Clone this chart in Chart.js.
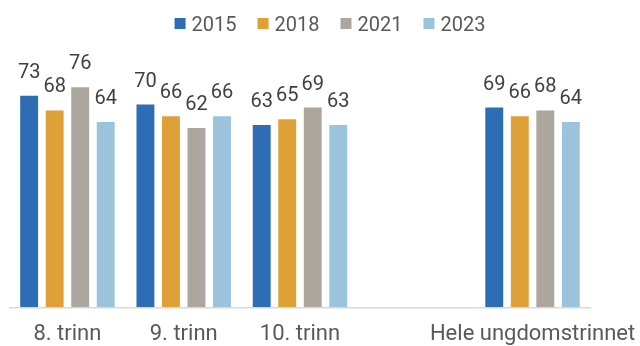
<!DOCTYPE html>
<html lang="no">
<head>
<meta charset="utf-8">
<title>Andel per trinn</title>
<script src="https://cdn.jsdelivr.net/npm/chart.js@4.4.1/dist/chart.umd.min.js"></script>
<style>
  html, body { margin: 0; padding: 0; background: #ffffff; overflow: hidden; }
  #chart { display: block; }
</style>
</head>
<body>
<canvas id="chart" width="640" height="346"></canvas>
<script>
// 1 DATA
const categories = ['8. trinn', '9. trinn', '10. trinn', '', 'Hele ungdomstrinnet'];
const years = ['2015', '2018', '2021', '2023'];
const values2015 = [73, 70, 63, null, 69];
const values2018 = [68, 66, 65, null, 66];
const values2021 = [76, 62, 69, null, 68];
const values2023 = [64, 66, 63, null, 64];
const colors = ['#2E6DB4', '#E0A038', '#ADA69F', '#9BC3DE'];

const FONT = 'Roboto, "Liberation Sans", sans-serif';
const TEXT_GREY = '#595959';

//*******************SEKVENS***************************
window.addEventListener('DOMContentLoaded', () => {
    const datasets = buildDatasets();
    drawChart(datasets);
});

// ---------------------------------------------------------------
// 2) datasett, ett per år
// ---------------------------------------------------------------
function buildDatasets() {
    const series = [values2015, values2018, values2021, values2023];
    return series.map((data, i) => ({
        label: years[i],
        data: data,
        backgroundColor: colors[i],
        borderColor: 'rgba(255,255,255,0.45)',
        borderWidth: 1,
        barPercentage: 0.78,
        categoryPercentage: 0.878
    }));
}

// ---------------------------------------------------------------
// 3) verdier over stolpene
// ---------------------------------------------------------------
const valueLabels = {
    id: 'valueLabels',
    afterDatasetsDraw(chart) {
        const ctx = chart.ctx;
        ctx.save();
        ctx.font = '20px ' + FONT;
        ctx.fillStyle = '#404040';
        ctx.textAlign = 'center';
        ctx.textBaseline = 'alphabetic';
        chart.data.datasets.forEach((ds, i) => {
            const meta = chart.getDatasetMeta(i);
            meta.data.forEach((bar, j) => {
                const v = ds.data[j];
                if (v === null) return;
                ctx.fillText(String(v), bar.x, bar.y - 17);
            });
        });
        ctx.restore();
    }
};

// ---------------------------------------------------------------
// 4) forklaring øverst (egen tegning for å styre plasseringen)
// ---------------------------------------------------------------
const topLegend = {
    id: 'topLegend',
    afterDraw(chart) {
        const ctx = chart.ctx;
        const box = 11, gapText = 6, gapItem = 21;
        ctx.save();
        ctx.font = '20px ' + FONT;
        const widths = chart.data.datasets.map(ds => ctx.measureText(ds.label).width);
        const total = widths.reduce((a, w) => a + box + gapText + w, 0) + gapItem * (widths.length - 1);
        let x = 330 - total / 2;
        ctx.textBaseline = 'alphabetic';
        ctx.textAlign = 'left';
        chart.data.datasets.forEach((ds, i) => {
            ctx.fillStyle = ds.backgroundColor;
            ctx.fillRect(x, 18, box, box);
            ctx.fillStyle = TEXT_GREY;
            ctx.fillText(ds.label, x + box + gapText, 31);
            x += box + gapText + widths[i] + gapItem;
        });
        ctx.restore();
    }
};

// ---------------------------------------------------------------
// 5) stolpediagram
// ---------------------------------------------------------------
function drawChart(datasets) {
    const chartDOM = document.getElementById('chart');
    new Chart(chartDOM, {
        type: 'bar',
        data: { labels: categories, datasets: datasets },
        options: {
            responsive: false,
            animation: false,
            // x-aksen reserverer 2 x linjehøyde/2 under aksen, derfor negativ bunn
            layout: { padding: { top: 74.5, left: 9.3, right: 48.4, bottom: -15.3 } },
            plugins: {
                legend: { display: false },
                tooltip: { enabled: false }
            },
            scales: {
                x: {
                    grid: { display: false, drawTicks: false },
                    border: { display: true, color: '#D9D9D9', width: 1.5 },
                    ticks: {
                        color: TEXT_GREY,
                        padding: 0,
                        maxRotation: 0,
                        autoSkip: false,
                        font: { family: FONT, size: 22, lineHeight: '54px' }
                    }
                },
                y: {
                    display: false,
                    min: 0,
                    max: 80
                }
            }
        },
        plugins: [valueLabels, topLegend]
    });
}
</script>
</body>
</html>
